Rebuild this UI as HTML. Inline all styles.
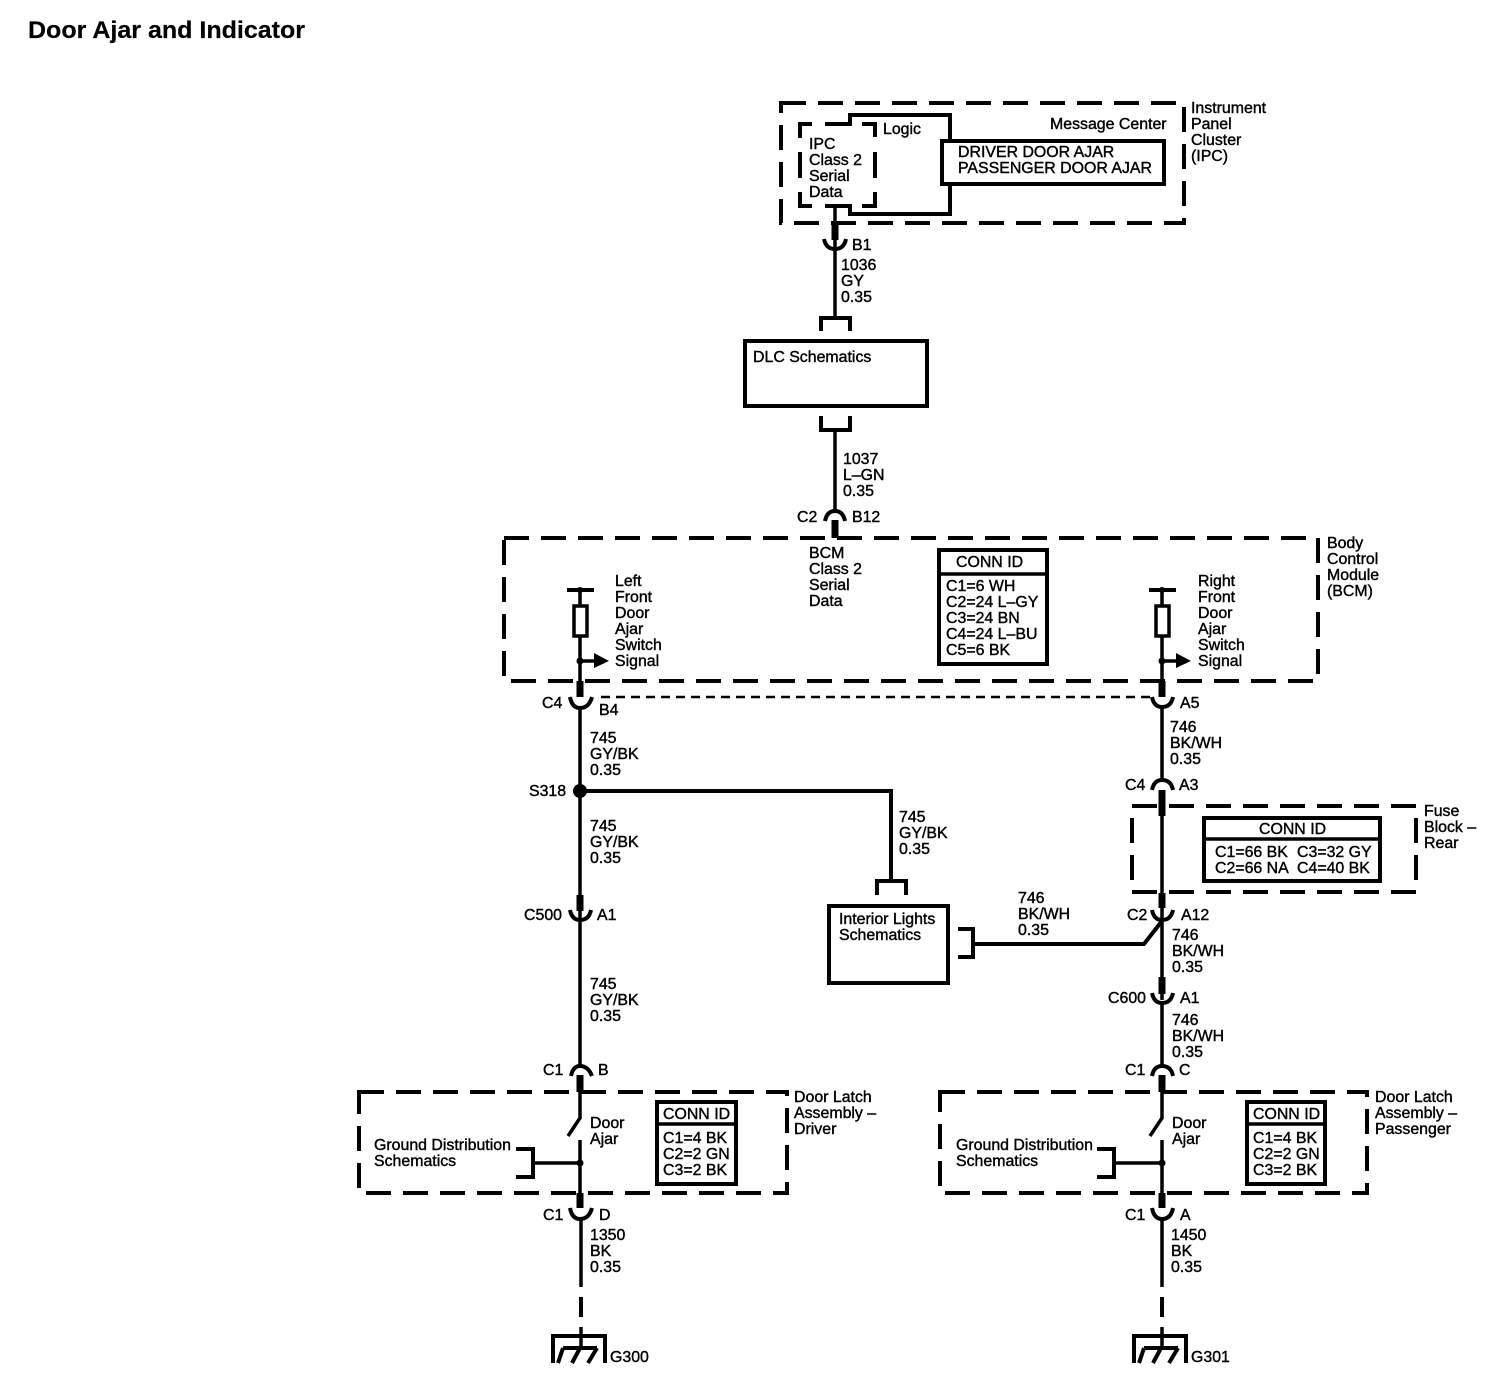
<!DOCTYPE html>
<html><head><meta charset="utf-8"><style>
html,body{margin:0;padding:0;background:#fff}
svg{display:block}
text{font-family:"Liberation Sans",sans-serif;font-size:15.9px;fill:#000;stroke:#000;stroke-width:.4}
.l{fill:none;stroke:#000;stroke-width:3.5}
.a{fill:none;stroke:#000;stroke-width:4}
.b{fill:none;stroke:#000;stroke-width:4}
.t{fill:none;stroke:#000;stroke-width:7}
.d{fill:none;stroke:#000;stroke-width:4;stroke-dasharray:25 12}
</style></head><body>
<svg width="1508" height="1392" viewBox="0 0 1508 1392" xmlns="http://www.w3.org/2000/svg">
<rect width="1508" height="1392" fill="#fff"/>
<text x="28" y="38" style="font-size:24.5px;font-weight:bold;stroke-width:.2" textLength="277" lengthAdjust="spacingAndGlyphs">Door Ajar and Indicator</text>

<!-- IPC -->
<rect class="d" x="781" y="103" width="403" height="120"/>
<path class="b" d="M812 124H800V138M800 152V178M800 192V206H812M825 206H850V214H950V115H850V124H825M862 124H875V137M875 152V178M875 192V206H862"/>
<rect class="b" x="942" y="141" width="222" height="43" style="fill:#fff"/>
<text x="809" y="149">IPC</text><text x="809" y="165">Class 2</text><text x="809" y="181">Serial</text><text x="809" y="197">Data</text>
<text x="883" y="134">Logic</text>
<text x="1050" y="129">Message Center</text>
<text x="958" y="157">DRIVER DOOR AJAR</text><text x="958" y="173">PASSENGER DOOR AJAR</text>
<text x="1191" y="113">Instrument</text><text x="1191" y="129">Panel</text><text x="1191" y="145">Cluster</text><text x="1191" y="161">(IPC)</text>
<path class="l" d="M835 206V317"/><path class="t" d="M835 224V240"/>
<path class="a" d="M824 239Q826 249 835 249Q844 249 846 239"/>
<text x="852" y="250">B1</text>
<text x="841" y="270">1036</text><text x="841" y="286">GY</text><text x="841" y="302">0.35</text>
<path class="b" d="M821 331V318H850V331"/>
<rect class="b" x="745" y="341" width="182" height="65"/>
<text x="753" y="362">DLC Schematics</text>
<path class="b" d="M821 416V430H850V416"/>
<path class="l" d="M835 430V510"/>
<text x="843" y="464">1037</text><text x="843" y="480">L–GN</text><text x="843" y="496">0.35</text>
<path class="a" d="M825 521Q827 511 835 511Q843 511 845 521"/>
<path class="t" d="M835 520V538"/>
<text x="797" y="522">C2</text><text x="852" y="522">B12</text>

<!-- BCM -->
<rect class="d" x="504" y="538" width="814" height="143"/>
<text x="809" y="558">BCM</text><text x="809" y="574">Class 2</text><text x="809" y="590">Serial</text><text x="809" y="606">Data</text>
<text x="1327" y="548">Body</text><text x="1327" y="564">Control</text><text x="1327" y="580">Module</text><text x="1327" y="596">(BCM)</text>
<rect class="b" x="939" y="550" width="108" height="114"/><path class="l" d="M939 574H1047"/>
<text x="956" y="567">CONN ID</text>
<text x="946" y="591">C1=6 WH</text><text x="946" y="607">C2=24 L–GY</text><text x="946" y="623">C3=24 BN</text><text x="946" y="639">C4=24 L–BU</text><text x="946" y="655">C5=6 BK</text>

<!-- left BCM -->
<path class="b" d="M567 590H594"/><circle cx="580" cy="590" r="3"/>
<path class="l" d="M580 590V606M580 636V681"/>
<rect class="l" x="574" y="606" width="13" height="30"/>
<circle cx="580" cy="661" r="3.5"/><path class="l" d="M580 661H596"/><path d="M594 653L609 661L594 668Z"/>
<text x="615" y="586">Left</text><text x="615" y="602">Front</text><text x="615" y="618">Door</text><text x="615" y="634">Ajar</text><text x="615" y="650">Switch</text><text x="615" y="666">Signal</text>
<path class="t" d="M580 681V697"/>
<path class="a" d="M570 697Q572 708 580 708Q589 708 592 697"/>
<text x="542" y="708">C4</text><text x="599" y="715">B4</text>
<path d="M601 697H1150" style="fill:none;stroke:#000;stroke-width:2.5;stroke-dasharray:9 6"/>
<path class="l" d="M580 708V1065"/>
<text x="590" y="743">745</text><text x="590" y="759">GY/BK</text><text x="590" y="775">0.35</text>
<circle cx="580" cy="791" r="7"/><text x="529" y="796">S318</text>
<path class="b" d="M580 791H891V880"/>
<text x="590" y="831">745</text><text x="590" y="847">GY/BK</text><text x="590" y="863">0.35</text>
<text x="899" y="822">745</text><text x="899" y="838">GY/BK</text><text x="899" y="854">0.35</text>
<path class="b" d="M877 895V881H906V895"/>
<rect class="b" x="829" y="906" width="119" height="77"/>
<text x="839" y="924">Interior Lights</text><text x="839" y="940">Schematics</text>
<path class="b" d="M958 929H973V957H958"/>
<path class="b" d="M973 944H1144L1162 921"/>
<text x="1018" y="903">746</text><text x="1018" y="919">BK/WH</text><text x="1018" y="935">0.35</text>

<path class="t" d="M580 895V911"/>
<path class="a" d="M570 910Q572 920 580 920Q589 920 591 910"/>
<text x="524" y="920">C500</text><text x="597" y="920">A1</text>
<text x="590" y="989">745</text><text x="590" y="1005">GY/BK</text><text x="590" y="1021">0.35</text>
<path class="a" d="M571 1076Q573 1066 580 1066Q588 1066 592 1076"/>
<path class="t" d="M580 1075V1092"/>
<text x="543" y="1075">C1</text><text x="598" y="1075">B</text>

<!-- left door -->
<rect class="d" x="359" y="1092" width="428" height="101"/>
<path class="l" d="M580 1092V1118L568 1136M580 1140V1193"/>
<circle cx="580" cy="1163" r="3.5"/>
<path class="l" d="M533 1163H580"/><path class="b" d="M516 1149H533V1177H516"/>
<text x="374" y="1150">Ground Distribution</text><text x="374" y="1166">Schematics</text>
<text x="590" y="1128">Door</text><text x="590" y="1144">Ajar</text>
<rect class="b" x="657" y="1102" width="79" height="82"/><path class="l" d="M657 1124H736"/>
<text x="663" y="1119">CONN ID</text><text x="663" y="1143">C1=4 BK</text><text x="663" y="1159">C2=2 GN</text><text x="663" y="1175">C3=2 BK</text>
<text x="794" y="1102">Door Latch</text><text x="794" y="1118">Assembly –</text><text x="794" y="1134">Driver</text>
<path class="t" d="M580 1193V1208"/>
<path class="a" d="M570 1208Q572 1219 580 1219Q589 1219 592 1208"/>
<text x="543" y="1220">C1</text><text x="599" y="1220">D</text>
<path class="l" d="M581 1219V1287"/>
<text x="590" y="1240">1350</text><text x="590" y="1256">BK</text><text x="590" y="1272">0.35</text>
<path class="b" d="M581 1297V1317"/>
<path class="l" d="M581 1327V1348"/>
<path class="b" d="M553 1363V1336H605V1363"/>
<path class="b" d="M563 1348H597M563 1348L558 1363M580 1348L572 1363M597 1348L588 1363"/>
<text x="610" y="1362">G300</text>

<!-- right BCM -->
<path class="b" d="M1149 590H1176"/><circle cx="1162" cy="590" r="3"/>
<path class="l" d="M1162 590V606M1162 636V681"/>
<rect class="l" x="1156" y="606" width="13" height="30"/>
<circle cx="1162" cy="661" r="3.5"/><path class="l" d="M1162 661H1178"/><path d="M1176 653L1191 661L1176 668Z"/>
<text x="1198" y="586">Right</text><text x="1198" y="602">Front</text><text x="1198" y="618">Door</text><text x="1198" y="634">Ajar</text><text x="1198" y="650">Switch</text><text x="1198" y="666">Signal</text>
<path class="t" d="M1162 681V697"/>
<path class="a" d="M1152 697Q1154 707 1162 707Q1171 707 1173 697"/>
<text x="1180" y="708">A5</text>
<path class="l" d="M1162 707V782"/>
<text x="1170" y="732">746</text><text x="1170" y="748">BK/WH</text><text x="1170" y="764">0.35</text>
<path class="a" d="M1152 790Q1154 780 1162 780Q1171 780 1173 790"/>
<text x="1125" y="790">C4</text><text x="1179" y="790">A3</text>

<!-- fuse -->
<rect class="d" x="1132" y="806" width="284" height="86"/>
<path class="t" d="M1162 790V816M1162 893V908"/>
<path class="l" d="M1162 790V1000"/>
<rect class="b" x="1204" y="818" width="176" height="63"/><path class="l" d="M1204 839H1380"/>
<text x="1259" y="834">CONN ID</text>
<text x="1215" y="857">C1=66 BK</text><text x="1297" y="857">C3=32 GY</text>
<text x="1215" y="873">C2=66 NA</text><text x="1297" y="873">C4=40 BK</text>
<text x="1424" y="816">Fuse</text><text x="1424" y="832">Block –</text><text x="1424" y="848">Rear</text>
<path class="a" d="M1152 910Q1154 920 1162 920Q1171 920 1173 910"/>
<text x="1127" y="920">C2</text><text x="1181" y="920">A12</text>
<text x="1172" y="940">746</text><text x="1172" y="956">BK/WH</text><text x="1172" y="972">0.35</text>
<path class="t" d="M1162 977V994"/>
<path class="a" d="M1152 993Q1154 1003 1162 1003Q1171 1003 1173 993"/>
<text x="1108" y="1003">C600</text><text x="1180" y="1003">A1</text>
<path class="l" d="M1162 1003V1066"/>
<text x="1172" y="1025">746</text><text x="1172" y="1041">BK/WH</text><text x="1172" y="1057">0.35</text>
<path class="a" d="M1152 1076Q1154 1066 1162 1066Q1171 1066 1173 1076"/>
<path class="t" d="M1162 1075V1092"/>
<text x="1125" y="1075">C1</text><text x="1179" y="1075">C</text>

<!-- right door -->
<rect class="d" x="940" y="1092" width="427" height="101"/>
<path class="l" d="M1162 1092V1118L1150 1136M1162 1140V1193"/>
<circle cx="1162" cy="1163" r="3.5"/>
<path class="l" d="M1114 1163H1162"/><path class="b" d="M1097 1149H1114V1177H1097"/>
<text x="956" y="1150">Ground Distribution</text><text x="956" y="1166">Schematics</text>
<text x="1172" y="1128">Door</text><text x="1172" y="1144">Ajar</text>
<rect class="b" x="1247" y="1102" width="78" height="82"/><path class="l" d="M1247 1124H1325"/>
<text x="1253" y="1119">CONN ID</text><text x="1253" y="1143">C1=4 BK</text><text x="1253" y="1159">C2=2 GN</text><text x="1253" y="1175">C3=2 BK</text>
<text x="1375" y="1102">Door Latch</text><text x="1375" y="1118">Assembly –</text><text x="1375" y="1134">Passenger</text>
<path class="t" d="M1162 1193V1208"/>
<path class="a" d="M1152 1208Q1154 1219 1162 1219Q1171 1219 1173 1208"/>
<text x="1125" y="1220">C1</text><text x="1180" y="1220">A</text>
<path class="l" d="M1162 1219V1287"/>
<text x="1171" y="1240">1450</text><text x="1171" y="1256">BK</text><text x="1171" y="1272">0.35</text>
<path class="b" d="M1162 1297V1317"/>
<path class="l" d="M1162 1327V1348"/>
<path class="b" d="M1134 1363V1336H1186V1363"/>
<path class="b" d="M1144 1348H1178M1144 1348L1139 1363M1161 1348L1153 1363M1178 1348L1169 1363"/>
<text x="1191" y="1362">G301</text>
</svg>
</body></html>
